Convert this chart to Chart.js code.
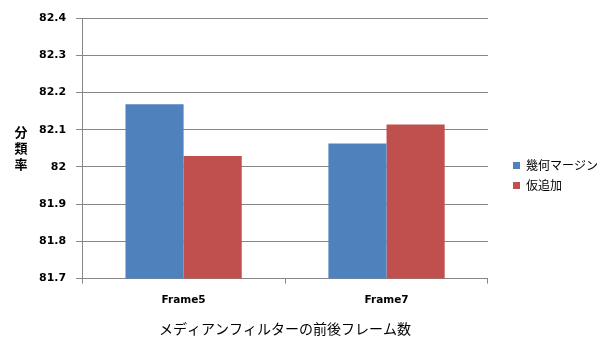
<!DOCTYPE html>
<html>
<head>
<meta charset="utf-8">
<script src="https://cdn.jsdelivr.net/npm/chart.js@4/dist/chart.umd.min.js"></script>
<style>
  html, body { margin: 0; padding: 0; background: #fff; }
  #wrap { width: 616px; height: 338px; position: relative; }
</style>
</head>
<body>
<div id="wrap"><canvas id="chart"></canvas></div>
<script>
// データ
const categories = ['Frame5', 'Frame7'];
const seriesNames = ['幾何マージン', '仮追加'];
const geoMargin = [82.168, 82.063];
const provisional = [82.029, 82.114];
const yTicks = [81.7, 81.8, 81.9, 82, 82.1, 82.2, 82.3, 82.4];

const yTitle = '分類率';
const xTitle = 'メディアンフィルターの前後フレーム数';

// 凡例とグラフ本体の間の余白、凡例の上下ずらし
const LEGEND_GAP = 17;
const LEGEND_SHIFT_Y = -2;

// 縦書きのY軸タイトル
const verticalTitle = {
    id: 'verticalTitle',
    afterDraw(chart) {
        const { ctx, chartArea } = chart;
        const chars = yTitle.split('');
        const lineH = 16;
        const cy = (chartArea.top + chartArea.bottom) / 2;
        const startY = cy - (chars.length - 1) * lineH / 2;
        ctx.save();
        ctx.font = 'bold 13px "Noto Sans CJK JP"';
        ctx.fillStyle = '#000';
        ctx.textAlign = 'center';
        ctx.textBaseline = 'middle';
        chars.forEach((c, i) => ctx.fillText(c, 21, startY + i * lineH));
        ctx.restore();
    }
};

// 凡例の左側に余白を足す
const legendGap = {
    id: 'legendGap',
    beforeUpdate(chart) {
        const lg = chart.legend;
        if (!lg || lg._gapPatched) return;
        const fit = lg.fit;
        lg.fit = function () {
            fit.call(this);
            this.width += LEGEND_GAP;
        };
        lg._gapPatched = true;
    },
    afterLayout(chart) {
        const lg = chart.legend;
        if (!lg) return;
        lg.left += LEGEND_GAP;
        lg.top += LEGEND_SHIFT_Y;
        lg.bottom += LEGEND_SHIFT_Y;
    }
};

new Chart(document.getElementById('chart'), {
    type: 'bar',
    data: {
        labels: categories,
        datasets: [
            { label: seriesNames[0], data: geoMargin, backgroundColor: '#4f81bd', barPercentage: 1.0, categoryPercentage: 0.573 },
            { label: seriesNames[1], data: provisional, backgroundColor: '#c0504d', barPercentage: 1.0, categoryPercentage: 0.573 }
        ]
    },
    options: {
        responsive: true,
        maintainAspectRatio: false,
        animation: false,
        layout: { padding: { left: 29, right: 8, top: 18, bottom: 1 } },
        plugins: {
            legend: {
                position: 'right',
                labels: {
                    boxWidth: 7, boxHeight: 7, padding: 8,
                    color: '#000',
                    font: { family: '"Noto Sans CJK JP"', size: 12 }
                }
            },
            tooltip: { enabled: false }
        },
        scales: {
            x: {
                grid: { display: true, drawOnChartArea: false, color: '#868686', tickLength: 5, offset: true },
                border: { color: '#868686' },
                ticks: { color: '#000', font: { family: '"DejaVu Sans"', size: 10.5, weight: 'bold' }, padding: 10 },
                title: { display: true, text: xTitle, color: '#000', font: { family: '"Noto Sans CJK JP"', size: 14 }, padding: { top: 4, bottom: 0 } }
            },
            y: {
                min: 81.7,
                max: 82.4,
                afterBuildTicks: axis => { axis.ticks = yTicks.map(v => ({ value: v })); },
                grid: { color: '#868686', tickLength: 6 },
                border: { color: '#868686' },
                ticks: {
                    color: '#000',
                    padding: 10,
                    font: { family: '"DejaVu Sans"', size: 11, weight: 'bold' },
                    callback: v => String(Math.round(v * 10) / 10)
                }
            }
        }
    },
    plugins: [verticalTitle, legendGap]
});
</script>
</body>
</html>
